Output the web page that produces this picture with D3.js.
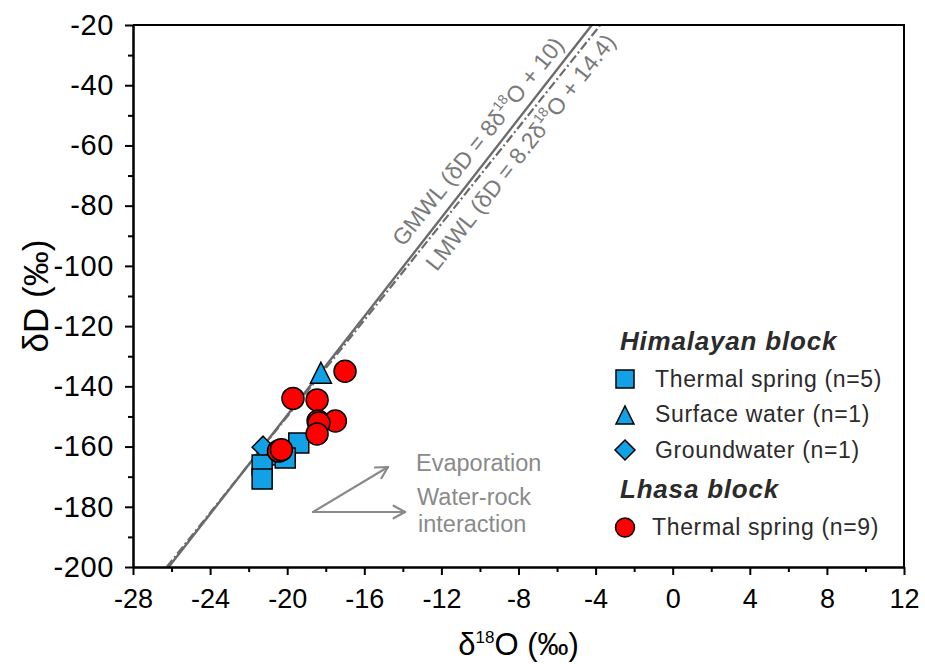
<!DOCTYPE html>
<html>
<head>
<meta charset="utf-8">
<script src="https://cdn.jsdelivr.net/npm/d3@7"></script>
<style>
  body { margin: 0; background: #fff; }
  svg { display: block; }
</style>
</head>
<body>
<svg id="chart" width="925" height="664"></svg>
<script>
// Axis tick values
const xMajorTicks = [-28, -24, -20, -16, -12, -8, -4, 0, 4, 8, 12];
const xMinorTicks = [-26, -22, -18, -14, -10, -6, -2, 2, 6, 10];
const yMajorTicks = [-20, -40, -60, -80, -100, -120, -140, -160, -180, -200];
const yMinorTicks = [-30, -50, -70, -90, -110, -130, -150, -170, -190];

// Samples: [δ18O, δD]
const himalayanThermal = [[-19.4, -158.8], [-20.4, -162.8], [-20.1, -163.8], [-21.3, -166.1], [-21.3, -170.8]];
const himalayanSurface = [[-18.25, -135.5]];
const himalayanGround = [[-21.25, -160.2]];
const lhasaThermal = [[-17.0, -135.0], [-19.7, -144.0], [-18.45, -144.5], [-18.4, -151.5], [-17.5, -151.5],
                      [-18.35, -152.2], [-18.45, -155.8], [-20.45, -161.5], [-20.3, -161.1]];

// Meteoric water lines: δD = slope·δ18O + intercept
const gmwl = { name: "GMWL", slope: 8, intercept: 10, slopeText: "8", interceptText: "10" };
const lmwl = { name: "LMWL", slope: 8.2, intercept: 14.4, slopeText: "8.2", interceptText: "14.4" };

const svg = d3.select("#chart");
const sans = "'Liberation Sans', Arial, Helvetica, sans-serif";

const x = d3.scaleLinear().domain([-28, 12]).range([133, 904]);
const y = d3.scaleLinear().domain([-200, -20]).range([567, 25]);
const [xl, xr] = x.range();
const [yb, yt] = y.range();

const blue = "#13a1e6";
const red = "#ff0000";
const lineGray = "#6b6b6b";
const labelGray = "#7a7a7a";

// ---- meteoric water lines (clipped to the plot) ----
svg.append("clipPath").attr("id", "plotClip")
  .append("rect").attr("x", xl).attr("y", yt).attr("width", xr - xl).attr("height", yb - yt);

function linePts(l) {
  const [d0, d1] = y.domain();
  return [[(d0 - l.intercept) / l.slope, d0], [(d1 - l.intercept) / l.slope, d1]];
}
const lineGen = d3.line().x(d => x(d[0])).y(d => y(d[1]));
const lines = svg.append("g").attr("clip-path", "url(#plotClip)").attr("fill", "none").attr("stroke", lineGray);
lines.append("path").attr("d", lineGen(linePts(lmwl))).attr("stroke-width", 2.4);
lines.append("path").attr("d", lineGen(linePts(gmwl))).attr("stroke-width", 2.2)
  .attr("stroke-dasharray", "9,3,2,3");

// ---- labels running along the lines ----
function lineLabel(l, startD, offset) {
  const px = x((startD - l.intercept) / l.slope), py = y(startD);
  const ang = Math.atan2(y(l.slope * 10 + l.intercept) - y(l.intercept), x(10) - x(0)) * 180 / Math.PI;
  const t = svg.append("text")
    .attr("transform", `translate(${px},${py}) rotate(${ang}) translate(0,${offset})`)
    .attr("font-family", sans).attr("font-size", 23).attr("fill", labelGray);
  t.append("tspan").text(`${l.name} (δD = ${l.slopeText}δ`);
  t.append("tspan").attr("font-size", 14).attr("dy", -10).text("18");
  t.append("tspan").attr("dy", 10).text(`O + ${l.interceptText})`);
}
lineLabel(gmwl, -97, -15);
lineLabel(lmwl, -96, 30);

// ---- axes ----
const axisX = svg.append("g").attr("transform", `translate(0,${yb})`)
  .call(d3.axisBottom(x).tickValues(xMajorTicks).tickSize(8).tickSizeOuter(0).tickPadding(14)
        .tickFormat(d => String(d)));
svg.append("g").attr("transform", `translate(0,${yb})`)
  .call(d3.axisBottom(x).tickValues(xMinorTicks).tickSize(5).tickSizeOuter(0).tickFormat(""));
const axisY = svg.append("g").attr("transform", `translate(${xl},0)`)
  .call(d3.axisLeft(y).tickValues(yMajorTicks).tickSize(8).tickSizeOuter(0).tickPadding(11)
        .tickFormat(d => String(d)));
svg.append("g").attr("transform", `translate(${xl},0)`)
  .call(d3.axisLeft(y).tickValues(yMinorTicks).tickSize(5).tickSizeOuter(0).tickFormat(""));

svg.selectAll(".domain, .tick line").attr("stroke", "#000").attr("stroke-width", 2);
axisX.selectAll("text").attr("font-family", sans).attr("font-size", 27).attr("fill", "#000");
axisY.selectAll("text").attr("font-family", sans).attr("font-size", 29).attr("fill", "#000")
  .attr("letter-spacing", 0.6);

// frame top and right
svg.append("path").attr("d", `M${xl},${yt}H${xr}V${yb}`)
  .attr("fill", "none").attr("stroke", "#000").attr("stroke-width", 2);

// axis titles
const xt = svg.append("text").attr("x", (xl + xr) / 2).attr("y", 655).attr("text-anchor", "middle")
  .attr("font-family", sans).attr("font-size", 31).attr("fill", "#000");
xt.append("tspan").text("δ");
xt.append("tspan").attr("font-size", 17).attr("dy", -12).text("18");
xt.append("tspan").attr("dy", 12).text("O (‰)");

svg.append("text").attr("transform", `translate(48,${(yt + yb) / 2}) rotate(-90)`)
  .attr("text-anchor", "middle").attr("font-family", sans).attr("font-size", 35).attr("fill", "#000")
  .text("δD (‰)");

// ---- marker shapes ----
const shapes = {
  square: s => `M${-s / 2},${-s / 2}h${s}v${s}h${-s}Z`,
  triangle: s => `M0,${-s / 2}L${s / 2},${s / 2}L${-s / 2},${s / 2}Z`,
  diamond: s => `M0,${-s / 2}L${s / 2},0L0,${s / 2}L${-s / 2},0Z`
};

function drawPath(data, shape, size, fill) {
  svg.append("g").selectAll("path").data(data).join("path")
    .attr("transform", d => `translate(${x(d[0])},${y(d[1])})`)
    .attr("d", shapes[shape](size))
    .attr("fill", fill).attr("stroke", "#000").attr("stroke-width", 1.5);
}
drawPath(himalayanGround, "diamond", 22, blue);
drawPath(himalayanSurface, "triangle", 21, blue);
drawPath(himalayanThermal, "square", 20, blue);
svg.append("g").selectAll("circle").data(lhasaThermal).join("circle")
  .attr("cx", d => x(d[0])).attr("cy", d => y(d[1])).attr("r", 11)
  .attr("fill", red).attr("stroke", "#000").attr("stroke-width", 1.5);

// ---- process arrows ----
const arrowColor = "#8a8a8a";
function arrow(x0, y0, x1, y1) {
  const a = Math.atan2(y1 - y0, x1 - x0), L = 13, w = 0.5;
  const g = svg.append("g").attr("stroke", arrowColor).attr("stroke-width", 2.2).attr("fill", "none")
    .attr("stroke-linecap", "round").attr("stroke-linejoin", "round");
  g.append("path").attr("d", `M${x0},${y0}L${x1},${y1}`);
  g.append("path").attr("d",
    `M${x1 - L * Math.cos(a - w)},${y1 - L * Math.sin(a - w)}L${x1},${y1}L${x1 - L * Math.cos(a + w)},${y1 - L * Math.sin(a + w)}`);
}
arrow(313, 512, 388, 467);
arrow(313, 512, 405, 512);
const noteStyle = t => t.attr("font-family", sans).attr("font-size", 23.5).attr("fill", arrowColor);
noteStyle(svg.append("text").attr("x", 416).attr("y", 471).text("Evaporation"));
noteStyle(svg.append("text").attr("x", 417).attr("y", 505).text("Water-rock"));
noteStyle(svg.append("text").attr("x", 418).attr("y", 532).text("interaction"));

// ---- legend ----
const legend = svg.append("g");
const headStyle = t => t.attr("font-family", sans).attr("font-size", 26).attr("font-weight", "bold")
  .attr("font-style", "italic").attr("fill", "#2b2b2b").attr("letter-spacing", 0.8);
headStyle(legend.append("text").attr("x", 620).attr("y", 350).text("Himalayan block"));
headStyle(legend.append("text").attr("x", 620).attr("y", 498).text("Lhasa block"));

const legendItems = [
  { shape: "square", size: 18, fill: blue, label: "Thermal spring (n=5)", cy: 379, ty: 387 },
  { shape: "triangle", size: 18, fill: blue, label: "Surface water (n=1)", cy: 415, ty: 422 },
  { shape: "diamond", size: 20, fill: blue, label: "Groundwater (n=1)", cy: 450, ty: 458 }
];
const itemStyle = t => t.attr("font-family", sans).attr("font-size", 23).attr("fill", "#2b2b2b")
  .attr("letter-spacing", 0.65);
legendItems.forEach(it => {
  legend.append("path").attr("transform", `translate(625,${it.cy})`).attr("d", shapes[it.shape](it.size))
    .attr("fill", it.fill).attr("stroke", "#000").attr("stroke-width", 1.5);
  itemStyle(legend.append("text").attr("x", 655).attr("y", it.ty).text(it.label));
});
legend.append("circle").attr("cx", 625).attr("cy", 527.5).attr("r", 9.5)
  .attr("fill", red).attr("stroke", "#000").attr("stroke-width", 1.5);
itemStyle(legend.append("text").attr("x", 652).attr("y", 535).text("Thermal spring (n=9)"));
</script>
</body>
</html>
